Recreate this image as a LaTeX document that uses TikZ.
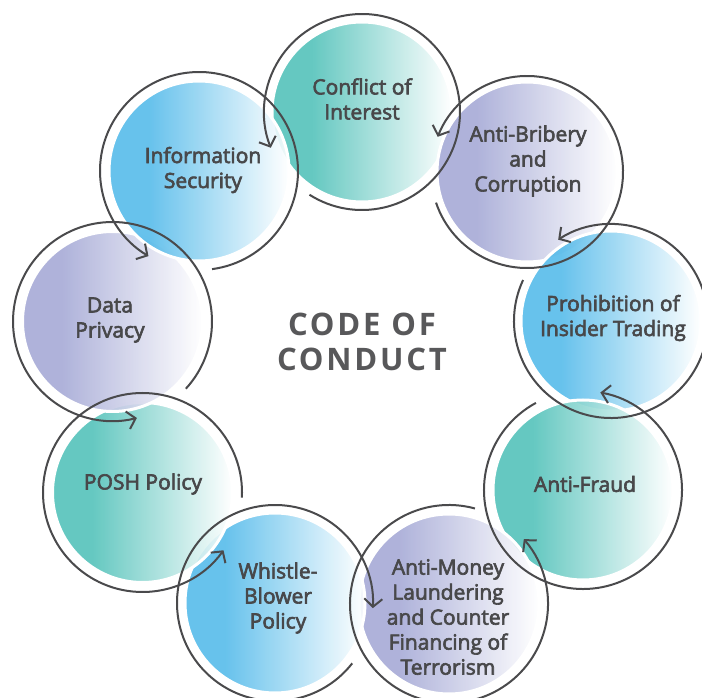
\documentclass[tikz,border=0pt]{standalone}
\usepackage{fontspec}
\newfontfamily\lblfont{Open Sans}[FakeBold=3]
\newfontfamily\ttlfont{Open Sans}[LetterSpace=9]
\usetikzlibrary{arrows.meta,calc}
\definecolor{tealc}{RGB}{84,194,186}
\definecolor{purpc}{RGB}{166,170,214}
\definecolor{bluec}{RGB}{86,187,234}
\definecolor{ringc}{RGB}{74,74,76}
\definecolor{txtc}{RGB}{72,72,74}
\definecolor{ttlc}{RGB}{88,88,90}
\pgfdeclarehorizontalshading{tealsh}{100bp}{color(0bp)=(tealc); color(25bp)=(tealc); color(36bp)=(tealc); color(75bp)=(white); color(100bp)=(white)}
\pgfdeclarehorizontalshading{purpsh}{100bp}{color(0bp)=(purpc); color(25bp)=(purpc); color(36bp)=(purpc); color(75bp)=(white); color(100bp)=(white)}
\pgfdeclarehorizontalshading{bluesh}{100bp}{color(0bp)=(bluec); color(25bp)=(bluec); color(36bp)=(bluec); color(75bp)=(white); color(100bp)=(white)}
\tikzset{
  disc/.style={circle, minimum size=180pt, inner sep=0pt, draw=white, line width=3pt, fill opacity=0.9, draw opacity=1},
  ring/.style={draw=ringc, line width=2pt, -{Straight Barb[length=8pt,width=18pt]}},
  lbl/.style={font=\lblfont\fontsize{21}{25}\selectfont, text=txtc, align=center},
  ttl/.style={font=\ttlfont\bfseries\fontsize{31}{35}\selectfont, text=ttlc, align=center}
}
\begin{document}
\begin{tikzpicture}[x=1pt,y=1pt]
\useasboundingbox (0,0) rectangle (702,697);
% centres
\coordinate (p1) at (362,585);
\coordinate (p2) at (527,525);
\coordinate (p3) at (611,376);
\coordinate (p4) at (583,207);
\coordinate (p5) at (449,93);
\coordinate (p6) at (275,94);
\coordinate (p7) at (142.5,204.5);
\coordinate (p8) at (112.5,375.5);
\coordinate (p9) at (199,526);
% discs
\node[disc, shading=tealsh] (d1) at (p1) {};
\node[disc, shading=purpsh] (d2) at (p2) {};
\node[disc, shading=bluesh] (d3) at (p3) {};
\node[disc, shading=tealsh] (d4) at (p4) {};
\node[disc, shading=purpsh] (d5) at (p5) {};
\node[disc, shading=bluesh] (d6) at (p6) {};
\node[disc, shading=tealsh] (d7) at (p7) {};
\node[disc, shading=purpsh] (d8) at (p8) {};
\node[disc, shading=bluesh] (d9) at (p9) {};
% rings with arrows
\draw[ring] ($(p1)+(237.6:98)$) arc[start angle=237.6, end angle=561.4, radius=98];
\draw[ring] ($(p2)+(198.6:96)$) arc[start angle=198.6, end angle=518.5, radius=96];
\draw[ring] ($(p3)+(155:97)$) arc[start angle=155, end angle=483, radius=97];
\draw[ring] ($(p4)+(118.4:99)$) arc[start angle=118.4, end angle=439.9, radius=99];
\draw[ring] ($(p5)+(74.8:99)$) arc[start angle=74.8, end angle=400.9, radius=99];
\draw[ring] ($(p6)+(-38:98)$) arc[start angle=-38, end angle=-363, radius=98];
\draw[ring] ($(p7)+(-3:99.5)$) arc[start angle=-3, end angle=324.5, radius=99.5];
\draw[ring] ($(p8)+(-42.5:99.5)$) arc[start angle=-42.5, end angle=284.2, radius=99.5];
\draw[ring] ($(p9)+(277.6:99)$) arc[start angle=277.6, end angle=599.3, radius=99];
% labels
\node[lbl] (t1) at (362,598) {Conflict of\\Interest};
\node[lbl] (t2) at (528,536) {Anti-Bribery\\and\\Corruption};
\node[lbl] (t3) at (613,379) {Prohibition of\\Insider Trading};
\node[lbl] (t4) at (585,213) {Anti-Fraud};
\node[lbl] (t5) at (448,80) {Anti-Money\\Laundering\\and Counter\\Financing of\\Terrorism};
\node[lbl] (t6) at (278,99) {Whistle-\\Blower\\Policy};
\node[lbl] (t7) at (143,213) {POSH Policy};
\node[lbl] (t8) at (110,377) {Data\\Privacy};
\node[lbl] (t9) at (203,527) {Information\\Security};
\node[ttl] (ttl) at (362,355) {CODE OF\\CONDUCT};
\end{tikzpicture}
\end{document}
